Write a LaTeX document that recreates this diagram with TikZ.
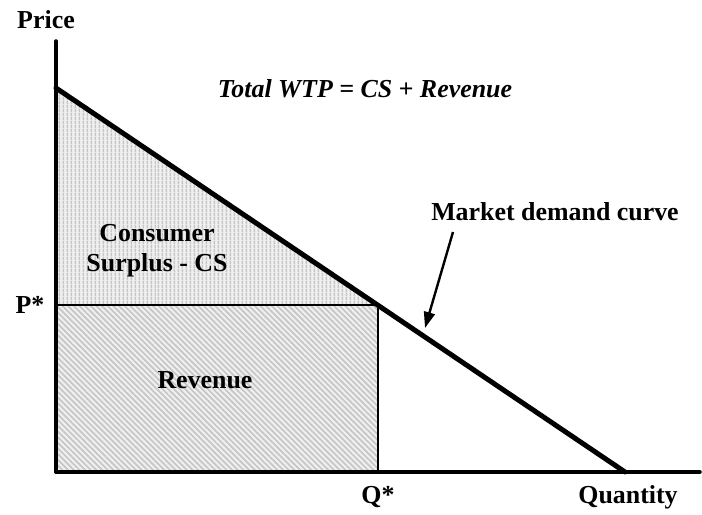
\documentclass[tikz,border=0pt]{standalone}
\usepackage{fontspec}
\setmainfont{Liberation Serif}
\usepackage{tkz-euclide}
\usetikzlibrary{patterns.meta,arrows.meta}

\tikzset{lbl/.style={font=\fontsize{26}{30}\selectfont\bfseries,inner sep=0pt},
  axisline/.style={line width=3.5bp},
  demand/.style={line width=5bp},
  pstar/.style={line width=2.4bp},
  cshatch/.style={pattern={Lines[angle=90,distance=3.6bp,line width=1.6bp]},pattern color=gray!45},
  revhatch/.style={pattern={Lines[angle=-45,distance=4bp,line width=1.7bp]},pattern color=gray!45}}

\begin{document}
\begin{tikzpicture}[x=1bp,y=1bp]
                \useasboundingbox (0,0) rectangle (702,515);
                \tkzDefPoints{56/43/O,56/474/Y,700/43/X,56/427/A,625/43/B,56/210/P,378/210/E,378/43/Q}
                % consumer surplus and revenue
                \fill[gray!12] (A) -- (P) -- (E) -- cycle;
                \fill[cshatch] (A) -- (P) -- (E) -- cycle;
                \fill[gray!12] (P) rectangle (Q);
                \fill[revhatch] (P) rectangle (Q);
                \tkzDrawSegments[pstar](P,E E,Q)
                \tkzDrawSegments[axisline](Y,O O,X)
                \tkzDrawSegment[demand](A,B)
                \coordinate (mt) at (453,283);
                \coordinate (mh) at (425,187);
                \draw[line width=2.4bp,-{Triangle[length=16bp,width=11bp]}] (mt) -- (mh);
                \node[lbl] (price) at (46,495) {Price};
                \node[lbl] (title) at (365,426) {\itshape Total WTP = CS + Revenue};
                \node[lbl] (mkt) at (555,303) {Market demand curve};
                \node[lbl,align=center] (cs) at (157,264) {Consumer\\Surplus - CS};
                \node[lbl] (rev) at (205,135) {Revenue};
                \node[lbl] (ps) at (30,210) {P*};
                \node[lbl] (qs) at (378,18) {Q*};
                \node[lbl] (qty) at (628,18) {Quantity};
            \end{tikzpicture}
\end{document}
